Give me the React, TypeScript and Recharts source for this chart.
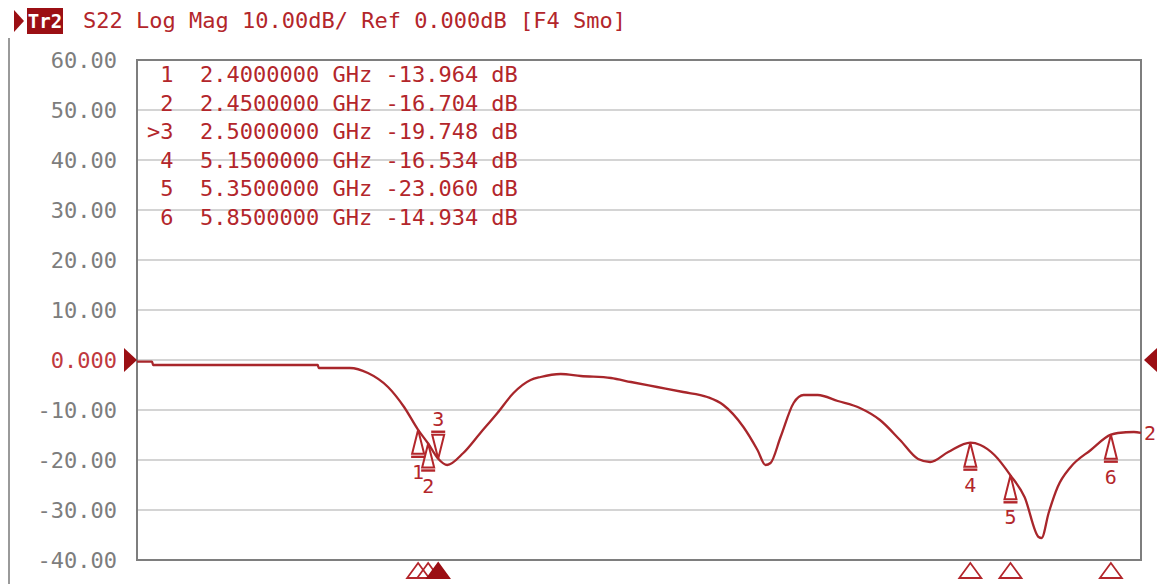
import React from 'react';
import {
  ComposedChart,
  Line,
  Scatter,
  XAxis,
  YAxis,
  CartesianGrid,
  ReferenceArea,
  ReferenceDot,
} from 'recharts';

// Trace S22 (frequency in GHz, magnitude in dB)
const freqGHz = [
  1.0, 1.075, 1.08, 1.9, 1.905, 2.06, 2.15, 2.25, 2.33, 2.4, 2.45, 2.5, 2.545,
  2.625, 2.71, 2.795, 2.875, 2.96, 3.01, 3.11, 3.21, 3.36, 3.46, 3.59, 3.72,
  3.84, 3.92, 4.02, 4.09, 4.13, 4.155, 4.205, 4.27, 4.32, 4.39, 4.49, 4.6, 4.7,
  4.8, 4.89, 4.95, 5.04, 5.15, 5.2, 5.27, 5.35, 5.42, 5.49, 5.505, 5.54, 5.585,
  5.65, 5.75, 5.85, 5.885, 5.965, 6.0,
];
const s22dB = [
  -0.34, -0.34, -1.0, -1.0, -1.6, -1.6, -2.6, -5.4, -9.4, -13.964, -16.704,
  -19.748, -21.0, -18.6, -14.6, -10.6, -6.6, -4.0, -3.4, -2.8, -3.2, -3.6, -4.4,
  -5.4, -6.4, -7.4, -9.0, -13.4, -18.0, -21.0, -20.6, -15.4, -8.6, -7.0, -7.0,
  -8.2, -9.6, -12.0, -16.0, -19.8, -20.4, -18.4, -16.534, -17.0, -19.0, -23.06,
  -27.4, -35.4, -35.6, -30.6, -25.4, -21.4, -18.0, -14.934, -14.6, -14.4, -14.6,
];

// Markers
const markerIds = [1, 2, 3, 4, 5, 6];
const markerFreq = [2.4, 2.45, 2.5, 5.15, 5.35, 5.85];
const markerDb = [-13.964, -16.704, -19.748, -16.534, -23.06, -14.934];
const activeMarker = 3;

// Axes
const xTicks = [1, 1.5, 2, 2.5, 3, 3.5, 4, 4.5, 5, 5.5, 6];
const yTicks = [60, 50, 40, 30, 20, 10, 0, -10, -20, -30, -40];
const refLevel = 0;
const traceNumber = '2';
const titleText = 'S22 Log Mag 10.00dB/ Ref 0.000dB [F4 Smo]';
const traceTag = 'Tr2';

const RED = '#b3262b';
const CURVE = '#a8262b';
const DARK = '#9b0f14';
const MONO = '"DejaVu Sans Mono", "Liberation Mono", monospace';

const traceData = freqGHz.map((f, i) => ({ f, db: s22dB[i] }));
const markerData = markerIds.map((id, i) => ({
  f: markerFreq[i],
  db: markerDb[i],
  id,
  active: id === activeMarker,
}));
const bottomData = markerIds.map((id, i) => ({
  f: markerFreq[i],
  db: yTicks[yTicks.length - 1],
  id,
  active: id === activeMarker,
}));

const YTick = (props: any) => {
  const { x, y, payload } = props;
  const v = payload.value;
  const label = v === 0 ? '0.000' : v.toFixed(2);
  return (
    <text
      x={x}
      y={y}
      dy={8}
      textAnchor="end"
      fontFamily={MONO}
      fontSize={22}
      fill={v === 0 ? '#c0393e' : '#7d7d7d'}
    >
      {label}
    </text>
  );
};

const MarkerShape = (props: any) => {
  const { cx, cy, payload } = props;
  if (cx == null || cy == null) return null;
  if (payload.active) {
    return (
      <g>
        <polygon
          points={`${cx},${cy} ${cx - 6},${cy - 24} ${cx + 6},${cy - 24}`}
          fill="none"
          stroke={RED}
          strokeWidth={2}
        />
        <line x1={cx - 7} y1={cy - 27} x2={cx + 7} y2={cy - 27} stroke={RED} strokeWidth={2.4} />
        <text x={cx} y={cy - 33} textAnchor="middle" fontFamily={MONO} fontSize={20} fill={RED}>
          {payload.id}
        </text>
      </g>
    );
  }
  return (
    <g>
      <polygon
        points={`${cx},${cy} ${cx - 6},${cy + 24} ${cx + 6},${cy + 24}`}
        fill="none"
        stroke={RED}
        strokeWidth={2}
      />
      <line x1={cx - 7} y1={cy + 27} x2={cx + 7} y2={cy + 27} stroke={RED} strokeWidth={2.4} />
      <text x={cx} y={cy + 49} textAnchor="middle" fontFamily={MONO} fontSize={20} fill={RED}>
        {payload.id}
      </text>
    </g>
  );
};

const BottomShape = (props: any) => {
  const { cx, cy, payload } = props;
  if (cx == null || cy == null) return null;
  return (
    <polygon
      points={`${cx},${cy + 3} ${cx - 11},${cy + 18} ${cx + 11},${cy + 18}`}
      fill={payload.active ? DARK : '#ffffff'}
      fillOpacity={payload.active ? 1 : 0}
      stroke={payload.active ? DARK : RED}
      strokeWidth={1.8}
    />
  );
};

const LeftRefShape = (props: any) => {
  const { cx, cy } = props;
  if (cx == null || cy == null) return null;
  return (
    <polygon points={`${cx - 13},${cy - 12} ${cx},${cy} ${cx - 13},${cy + 12}`} fill={DARK} />
  );
};

const RightRefShape = (props: any) => {
  const { cx, cy } = props;
  if (cx == null || cy == null) return null;
  return (
    <polygon points={`${cx + 16},${cy - 12} ${cx + 3},${cy} ${cx + 16},${cy + 12}`} fill={DARK} />
  );
};

const TraceEndShape = (props: any) => {
  const { cx, cy } = props;
  if (cx == null || cy == null) return null;
  return (
    <text x={cx + 3} y={cy + 7} fontFamily={MONO} fontSize={20} fill={RED}>
      {traceNumber}
    </text>
  );
};

export default function App() {
  const last = traceData[traceData.length - 1];
  return (
    <div
      style={{
        position: 'absolute',
        left: 0,
        top: 0,
        width: 1157,
        height: 584,
        background: '#ffffff',
        overflow: 'hidden',
      }}
    >
      {/* left grey frame line */}
      <div
        style={{
          position: 'absolute',
          left: 8,
          top: 38,
          width: 2,
          height: 546,
          background: '#9a9a9a',
        }}
      />
      {/* title */}
      <svg style={{ position: 'absolute', left: 12, top: 9 }} width={14} height={24}>
        <polygon points="2,1 12,12 2,23" fill={DARK} />
      </svg>
      <div
        style={{
          position: 'absolute',
          left: 27,
          top: 8,
          width: 36,
          height: 26,
          background: DARK,
          color: '#ffffff',
          fontFamily: MONO,
          fontSize: 19,
          lineHeight: '26px',
          textAlign: 'center',
          fontWeight: 'bold',
        }}
      >
        {traceTag}
      </div>
      <div
        style={{
          position: 'absolute',
          left: 83,
          top: 6,
          fontFamily: MONO,
          fontSize: 22,
          lineHeight: '30px',
          color: RED,
          whiteSpace: 'pre',
        }}
      >
        {titleText}
      </div>

      <ComposedChart
        width={1157}
        height={584}
        data={traceData}
        margin={{ top: 60, right: 16, bottom: 23, left: 7 }}
      >
        <CartesianGrid stroke="#d4d4d4" strokeWidth={2} />
        <XAxis
          type="number"
          dataKey="f"
          domain={[1, 6]}
          ticks={xTicks}
          tick={false}
          tickLine={false}
          axisLine={false}
          height={1}
        />
        <YAxis
          type="number"
          dataKey="db"
          domain={[-40, 60]}
          ticks={yTicks}
          tick={<YTick />}
          tickLine={false}
          axisLine={false}
          tickSize={6}
          tickMargin={14}
          width={130}
          interval={0}
        />
        <ReferenceArea
          x1={1}
          x2={6}
          y1={-40}
          y2={60}
          fill="none"
          fillOpacity={0}
          stroke="#7e7e7e"
          strokeWidth={2}
          ifOverflow="visible"
        />
        <Line
          type="monotone"
          dataKey="db"
          stroke={CURVE}
          strokeWidth={2.3}
          dot={false}
          activeDot={false}
          isAnimationActive={false}
        />
        <Scatter
          data={markerData}
          dataKey="db"
          shape={<MarkerShape />}
          isAnimationActive={false}
        />
        <Scatter
          data={bottomData}
          dataKey="db"
          shape={<BottomShape />}
          isAnimationActive={false}
        />
        <ReferenceDot x={1} y={refLevel} r={0} shape={<LeftRefShape />} ifOverflow="visible" />
        <ReferenceDot x={6} y={refLevel} r={0} shape={<RightRefShape />} ifOverflow="visible" />
        <ReferenceDot x={last.f} y={last.db} r={0} shape={<TraceEndShape />} ifOverflow="visible" />
      </ComposedChart>

      {/* marker table */}
      <div
        style={{
          position: 'absolute',
          left: 147,
          top: 61,
          fontFamily: MONO,
          fontSize: 22,
          lineHeight: '28.5px',
          color: RED,
          whiteSpace: 'pre',
        }}
      >
        {markerIds.map((id, i) => (
          <div key={id}>
            {(id === activeMarker ? '>' : ' ') +
              id +
              '  ' +
              markerFreq[i].toFixed(7) +
              ' GHz ' +
              markerDb[i].toFixed(3) +
              ' dB'}
          </div>
        ))}
      </div>
    </div>
  );
}
